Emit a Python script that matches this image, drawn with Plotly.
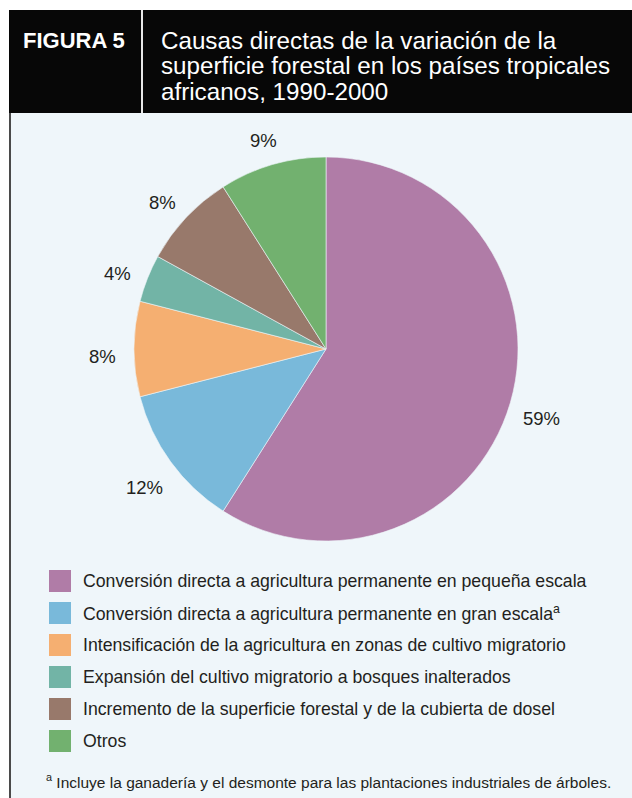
import math
import plotly.graph_objects as go

W, H = 632, 798

labels = [
    "Conversión directa a agricultura permanente en pequeña escala",
    "Conversión directa a agricultura permanente en gran escala<sup>a</sup>",
    "Intensificación de la agricultura en zonas de cultivo migratorio",
    "Expansión del cultivo migratorio a bosques inalterados",
    "Incremento de la superficie forestal y de la cubierta de dosel",
    "Otros",
]
values = [59, 12, 8, 4, 8, 9]
colors = ["#B07CA7", "#79B9DA", "#F5AF71", "#72B4A6", "#98796B", "#72B16F"]

title_tag = "FIGURA 5"
title_lines = [
    "Causas directas de la variación de la",
    "superficie forestal en los países tropicales",
    "africanos, 1990-2000",
]
footnote = "<sup>a</sup> Incluye la ganadería y el desmonte para las plantaciones industriales de árboles."

FONT = "Liberation Sans, Arial, sans-serif"
TXT = "#231F20"
BG = "#EFF6FA"


def px(x):
    return x / W


def py(y):
    return 1 - y / H


# pie geometry (pixels)
cx, cy, r = 326, 349, 192

fig = go.Figure()
fig.add_trace(go.Pie(
    labels=labels,
    values=values,
    sort=False,
    direction="clockwise",
    rotation=0,
    marker=dict(colors=colors, line=dict(color=BG, width=0.6)),
    textinfo="none",
    hoverinfo="label+percent",
    showlegend=False,
    domain=dict(x=[px(cx - r), px(cx + r)], y=[py(cy + r), py(cy - r)]),
))

shapes = [
    dict(type="rect", xref="paper", yref="paper", x0=px(9), x1=px(W), y0=py(H), y1=py(113),
         fillcolor=BG, line=dict(width=0), layer="below"),
    dict(type="line", xref="paper", yref="paper", x0=px(10), x1=px(10), y0=py(H), y1=py(113),
         line=dict(color="#4a4a4a", width=2)),
    dict(type="rect", xref="paper", yref="paper", x0=px(9), x1=px(W), y0=py(113), y1=py(10),
         fillcolor="#070707", line=dict(width=0)),
    dict(type="line", xref="paper", yref="paper", x0=px(142), x1=px(142), y0=py(113), y1=py(10),
         line=dict(color="#E8E8E8", width=2)),
]

annotations = [
    dict(text=f"<b>{title_tag}</b>", x=px(21), y=py(40), xanchor="left", yanchor="middle",
         font=dict(family=FONT, size=22, color="white")),
]
for i, line in enumerate(title_lines):
    annotations.append(dict(text=line, x=px(159), y=py(40 + 25.5 * i), xanchor="left", yanchor="middle",
                            font=dict(family=FONT, size=24.2, color="white")))

# percentage labels around the pie, derived from values
total = sum(values)
cum = 0
d = 224
for v in values:
    mid = (cum + v / 2) / total
    cum += v
    ang = 2 * math.pi * mid
    lx = cx + d * math.sin(ang)
    ly = cy - d * math.cos(ang) + 7
    annotations.append(dict(text=f"{round(100 * v / total)}%", x=px(lx), y=py(ly),
                            xanchor="center", yanchor="middle",
                            font=dict(family=FONT, size=18.5, color=TXT)))

# legend
for i, (lab, col) in enumerate(zip(labels, colors)):
    yc = 581 + 32 * i
    shapes.append(dict(type="rect", xref="paper", yref="paper", x0=px(49), x1=px(71),
                       y0=py(yc + 11), y1=py(yc - 11), fillcolor=col, line=dict(width=0)))
    annotations.append(dict(text=lab, x=px(81), y=py(yc), xanchor="left", yanchor="middle",
                            font=dict(family=FONT, size=17.7, color=TXT)))

annotations.append(dict(text=footnote, x=px(44), y=py(781), xanchor="left", yanchor="middle",
                        font=dict(family=FONT, size=15.5, color=TXT)))

for a in annotations:
    a.setdefault("xref", "paper")
    a.setdefault("yref", "paper")
    a.setdefault("showarrow", False)

fig.update_layout(
    width=W, height=H,
    margin=dict(l=0, r=0, t=0, b=0),
    paper_bgcolor="white",
    plot_bgcolor="white",
    shapes=shapes,
    annotations=annotations,
)

fig.write_html("out.html")
